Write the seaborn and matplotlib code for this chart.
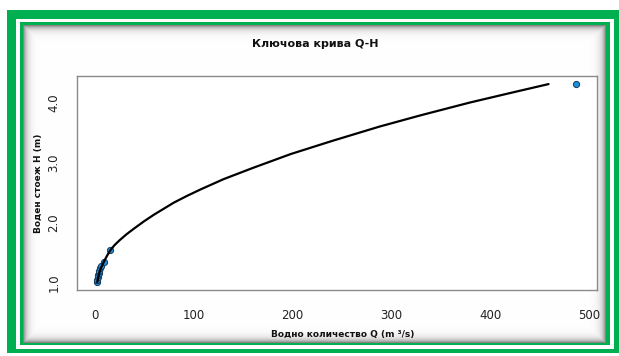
import numpy as np
import pandas as pd
import matplotlib
matplotlib.use("Agg")
import matplotlib.pyplot as plt
from matplotlib.patches import Rectangle
import seaborn as sns

# ---- data ----
title = "Ключова крива Q-H"
x_label = "Водно количество Q (m ³/s)"
y_label = "Воден стоеж H (m)"

# fitted rating curve
curve_Q = [2.5, 4, 6, 9.4, 13, 16, 20, 25, 32, 40, 50, 60, 70, 80, 93, 107,
           130, 160, 198, 240, 288, 330, 379, 420, 459]
curve_H = [1.00, 1.12, 1.23, 1.35, 1.46, 1.54, 1.62, 1.70, 1.80, 1.90, 2.02,
           2.13, 2.23, 2.33, 2.44, 2.55, 2.72, 2.91, 3.14, 3.36, 3.60, 3.79,
           4.00, 4.16, 4.31]

# observed points
obs_Q = [2.0, 2.5, 3.0, 3.5, 4.0, 4.5, 5.2, 6.0, 9.4, 15.4, 487]
obs_H = [1.00, 1.04, 1.08, 1.12, 1.15, 1.19, 1.23, 1.27, 1.345, 1.53, 4.31]

x_ticks = [0, 100, 200, 300, 400, 500]
y_ticks = [1.0, 1.5, 2.0, 2.5, 3.0, 3.5, 4.0]
y_tick_labels = ["1.0", "", "2.0", "", "3.0", "", "4.0"]

curve_df = pd.DataFrame({"Q": curve_Q, "H": curve_H})
obs_df = pd.DataFrame({"Q": obs_Q, "H": obs_H})

sns.set_style("white")
plt.rcParams["font.family"] = ["DejaVu Sans"]

W, H = 619, 356
fig = plt.figure(figsize=(W / 100, H / 100), dpi=100)
fig.patch.set_facecolor("white")

# ---- decorative frame ----
bg = fig.add_axes([0, 0, 1, 1], zorder=-5)
bg.axis("off")
green = "#00b050"
bg.add_patch(Rectangle((6.7, 10), W - 6.7 + 5, 343, color=green, lw=0, zorder=1))
bg.add_patch(Rectangle((15.7, 19), 614 - 15.7, 349 - 19, color="white", lw=0, zorder=1))
bg.add_patch(Rectangle((20, 21.7), 610 - 20, 345.3 - 21.7, color=green, lw=0, zorder=1))
px0, py0, px1, py1 = 23.3, 25, 606, 342.7
pw, ph = int(round(px1 - px0)), int(round(py1 - py0))
yy, xx = np.mgrid[0:ph, 0:pw]
d = np.minimum.reduce([xx + 0.5, pw - xx - 0.5, yy + 0.5, ph - yy - 0.5])
shade = 1 - 0.55 * np.exp(-d / 3.5)
img = np.dstack([shade, shade, shade])
bg.imshow(img, extent=(px0, px1, py1, py0), interpolation="bilinear",
          aspect="auto", zorder=3)
bg.set_xlim(0, W)
bg.set_ylim(H, 0)

# ---- main plot ----
L, R, T, B = 77, 597, 76, 290
ax = fig.add_axes([L / W, 1 - B / H, (R - L) / W, (B - T) / H])
ax.set_facecolor("white")
sns.scatterplot(data=obs_df, x="Q", y="H", ax=ax, s=20, color="#1e8fe0",
                edgecolor="#163c5c", linewidth=0.7, zorder=2)
sns.lineplot(data=curve_df, x="Q", y="H", ax=ax, color="black", lw=1.6,
             estimator=None, sort=True, zorder=3)

ax.set_xlim(-18, 508)
ax.set_ylim(0.87, 4.445)
ax.set_xticks(x_ticks)
ax.set_xticklabels([str(v) for v in x_ticks])
ax.set_yticks(y_ticks)
ax.set_yticklabels(y_tick_labels, rotation=90, va="center")
ax.set_xlabel("")
ax.set_ylabel("")
for s in ax.spines.values():
    s.set_color("#8a8a8a")
    s.set_linewidth(1.0)
ax.tick_params(axis="both", which="major", direction="out", length=6,
               width=1.0, color="#8a8a8a", labelsize=8.5, labelcolor="#222222")
ax.tick_params(axis="x", pad=8)
ax.tick_params(axis="y", pad=6)

fig.text(315 / W, 1 - 44 / H, title, ha="center", va="center",
         fontsize=8, fontweight="bold", color="#111111")
fig.text(343 / W, 1 - 334 / H, x_label, ha="center", va="center",
         fontsize=6.5, fontweight="bold", color="#111111")
fig.text(38 / W, 1 - 183 / H, y_label, ha="center", va="center", rotation=90,
         fontsize=6.5, fontweight="bold", color="#111111")

fig.savefig("out.png", dpi=100)
